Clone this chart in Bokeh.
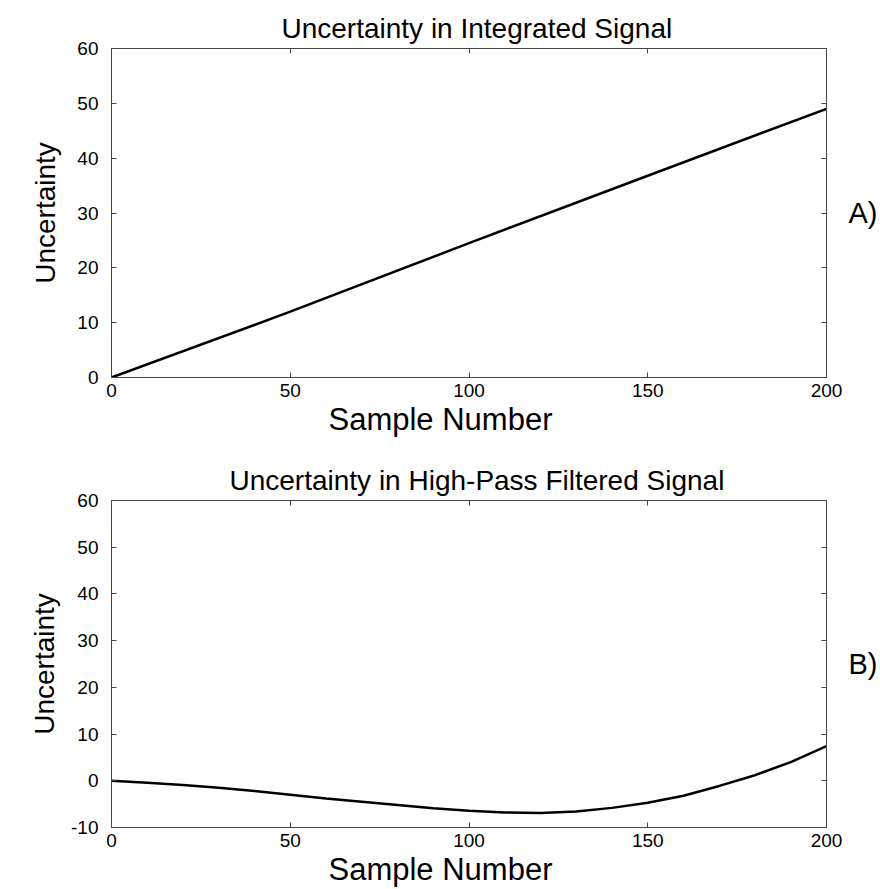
from bokeh.plotting import figure
from bokeh.models import LinearAxis, Range1d, FixedTicker, Title
from bokeh.layouts import column
from bokeh.embed import file_html
from bokeh.resources import INLINE

FONT = "Liberation Sans"

# Panel A: uncertainty of the running integral
integrated_samples = [0, 50, 100, 150, 200]
integrated_uncertainty = [0.0, 12.0, 24.5, 36.8, 49.0]

# Panel B: uncertainty after high-pass filtering
highpass_samples = [0, 10, 20, 30, 40, 50, 60, 70, 80, 90, 100,
                    110, 120, 130, 140, 150, 160, 170, 180, 190, 200]
highpass_uncertainty = [0.0, -0.4, -0.9, -1.5, -2.2, -3.0, -3.8, -4.5, -5.2, -5.9, -6.4,
                        -6.8, -6.9, -6.6, -5.8, -4.7, -3.2, -1.1, 1.2, 4.0, 7.4]

x_ticks = [0, 50, 100, 150, 200]
y_ticks_a = [0, 10, 20, 30, 40, 50, 60]
y_ticks_b = [-10, 0, 10, 20, 30, 40, 50, 60]

FRAME_COLOR = "#444444"


def style_axis(ax):
    ax.axis_line_color = FRAME_COLOR
    ax.axis_line_width = 1
    ax.major_tick_line_color = FRAME_COLOR
    ax.major_tick_in = 5
    ax.major_tick_out = 0
    ax.minor_tick_line_color = None
    ax.major_label_text_font = FONT
    ax.major_label_text_font_size = "19px"
    ax.major_label_text_color = "black"
    ax.axis_label_text_font = FONT
    ax.axis_label_text_font_style = "normal"
    ax.axis_label_text_color = "black"


def tick_only_axis(ticks, **kw):
    # frame edge with inward ticks and no numbers
    ax = LinearAxis(ticker=FixedTicker(ticks=ticks),
                    major_label_overrides={t: "" for t in ticks}, **kw)
    style_axis(ax)
    ax.major_label_standoff = 0
    return ax


def make_panel(title, xs, ys, y_lo, y_hi, y_ticks, tag, height, top, bottom,
               left_label_standoff, title_offset):
    p = figure(width=880, height=height,
               x_range=Range1d(0, 200), y_range=Range1d(y_lo, y_hi),
               x_axis_type=None, y_axis_type=None,
               output_backend="svg", toolbar_location=None,
               min_border_left=111, min_border_right=54,
               min_border_top=top, min_border_bottom=bottom)
    p.outline_line_color = None
    p.background_fill_color = "white"
    p.border_fill_color = "white"

    p.title.text = title
    p.title.text_font = FONT
    p.title.text_font_size = "28px"
    p.title.text_font_style = "normal"
    p.title.text_color = "black"
    p.title.align = "left"
    p.title.offset = title_offset
    p.title.standoff = 10

    bottom_ax = LinearAxis(ticker=FixedTicker(ticks=x_ticks))
    style_axis(bottom_ax)
    bottom_ax.major_label_standoff = 6
    p.add_layout(bottom_ax, "below")

    # x-axis caption, set a little left of the frame centre
    p.add_layout(Title(text="Sample Number", align="left", offset=217, standoff=0,
                       text_font=FONT, text_font_size="31px", text_font_style="normal",
                       text_color="black"), "below")

    left_ax = LinearAxis(ticker=FixedTicker(ticks=y_ticks), axis_label="Uncertainty",
                         major_label_overrides={t: str(t).replace("\u2212", "-") for t in y_ticks})
    style_axis(left_ax)
    left_ax.major_label_standoff = 13
    left_ax.axis_label_standoff = left_label_standoff
    left_ax.axis_label_text_font_size = "28px"
    p.add_layout(left_ax, "left")

    p.add_layout(tick_only_axis(x_ticks), "above")

    right_ax = tick_only_axis(y_ticks, axis_label=tag)
    right_ax.axis_label_orientation = "horizontal"
    right_ax.axis_label_standoff = 22
    right_ax.axis_label_text_font_size = "29px"
    p.add_layout(right_ax, "right")

    p.line(xs, ys, line_color="black", line_width=2.5)
    return p


panel_a = make_panel("Uncertainty in Integrated Signal",
                     integrated_samples, integrated_uncertainty,
                     0, 60, y_ticks_a, "A)", 446, 48, 69, 13, 170)
panel_b = make_panel("Uncertainty in High-Pass Filtered Signal",
                     highpass_samples, highpass_uncertainty,
                     -10, 60, y_ticks_b, "B)", 443, 54, 62, 8, 118)

layout = column(panel_a, panel_b, spacing=0)

open("out.html", "w").write(file_html(layout, INLINE))
